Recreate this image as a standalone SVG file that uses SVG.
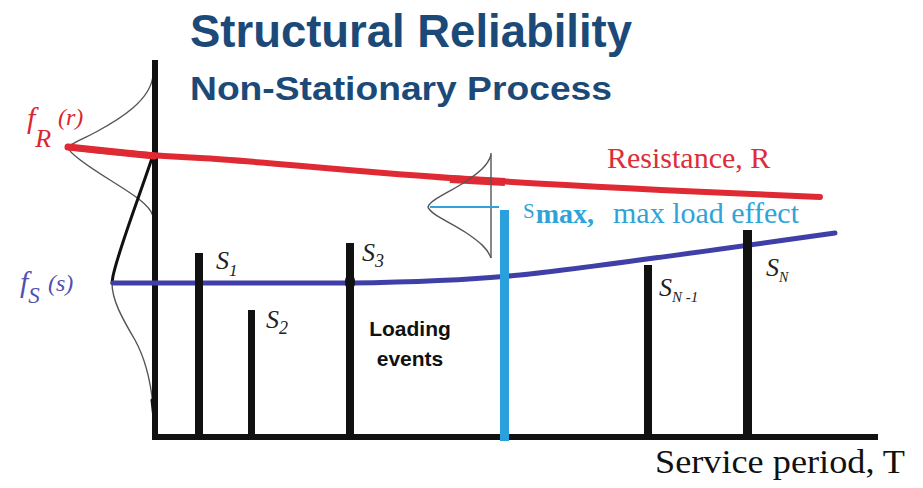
<svg xmlns="http://www.w3.org/2000/svg" width="923" height="488" viewBox="0 0 923 488">
  <style>
    .title { font-family: "Liberation Sans", Arial, sans-serif; font-weight: bold; fill: #1c4a78; }
    .serif { font-family: "Liberation Serif", "Times New Roman", serif; }
    .it { font-style: italic; }
    .bar { fill: #111; }
    .pdf { fill: none; stroke: #555; stroke-width: 1.4; }
    .pdfk { fill: none; stroke: #111; stroke-width: 3; stroke-linecap: round; }
    .lbl { font-family: "Liberation Serif", "Times New Roman", serif; font-style: italic; fill: #222; font-size: 26px; }
  </style>
  <rect width="923" height="488" fill="#ffffff"/>

  <!-- heading -->
  <g id="title">
    <text class="title" x="190" y="47" font-size="46" textLength="442" lengthAdjust="spacingAndGlyphs">Structural Reliability</text>
    <text class="title" x="190" y="100" font-size="34" textLength="422" lengthAdjust="spacingAndGlyphs">Non-Stationary Process</text>
  </g>

  <!-- density curves on the vertical axis -->
  <g id="density-R">
    <path class="pdf" d="M153,76 C150,100 122,118 96,132 C79,141 68,145 68,148 C70,153 86,165 110,180 C134,195 150,205 153,216"/>
  </g>
  <g id="density-S">
    <path class="pdfk" d="M154,152 C140,195 120,245 113,276 L112,283"/>
    <path class="pdf" d="M112,283 C112,300 122,318 135,340 C146,360 151,385 153,405"/>
    <path class="pdfk" d="M152,400 L156,437"/>
  </g>

  <!-- axes -->
  <g id="axes" fill="none" stroke="#111" stroke-linecap="butt">
    <line x1="155" y1="60" x2="155" y2="440" stroke-width="6"/>
    <line x1="152" y1="437" x2="878" y2="437" stroke-width="6"/>
  </g>

  <!-- resistance curve -->
  <g id="resistance">
    <path d="M68,147 C100,151 140,155 200,158 S350,172 480,180 S700,192 820,197" fill="none" stroke="#e02a33" stroke-width="6" stroke-linecap="round"/>
    <path d="M68,147 L154,156" fill="none" stroke="#e02a33" stroke-width="7" stroke-linecap="round"/>
    <path d="M450,179 L505,182" fill="none" stroke="#e02a33" stroke-width="8"/>
    <text class="serif" x="607" y="168" font-size="30" fill="#de2c38">Resistance, R</text>
  </g>

  <!-- load effect mean curve -->
  <g id="load-effect">
    <path d="M113,283 L350,283 C420,282 470,280 520,275 S700,252 835,233" fill="none" stroke="#3f3fa8" stroke-width="5" stroke-linecap="round"/>
  </g>

  <!-- loading events -->
  <g id="events">
    <rect class="bar" x="195" y="253" width="8" height="185"/>
    <rect class="bar" x="248" y="310" width="7" height="128"/>
    <rect class="bar" x="346" y="243" width="8" height="195"/>
    <ellipse cx="350" cy="282" rx="5" ry="9" fill="#111"/>
    <rect class="bar" x="644" y="265" width="8" height="173"/>
    <rect class="bar" x="743" y="230" width="9" height="208"/>
  </g>

  <g id="event-labels" class="lbl">
    <text x="216" y="269">S<tspan dy="7" font-size="17">1</tspan></text>
    <text x="266" y="328">S<tspan dy="6" font-size="18">2</tspan></text>
    <text x="362" y="261">S<tspan dy="6" font-size="18">3</tspan></text>
    <text x="659" y="296">S<tspan dy="6" font-size="15">N -1</tspan></text>
    <text x="766" y="276">S<tspan dy="6" font-size="14">N</tspan></text>
  </g>

  <g id="loading-text">
    <text x="410" y="336" font-family="'Liberation Sans', Arial, sans-serif" font-weight="bold" font-size="21" fill="#111" text-anchor="middle">Loading</text>
    <text x="410" y="366" font-family="'Liberation Sans', Arial, sans-serif" font-weight="bold" font-size="21" fill="#111" text-anchor="middle">events</text>
  </g>

  <!-- maximum load effect -->
  <g id="smax">
    <path class="pdf" d="M491,153 L491,258"/>
    <path class="pdf" d="M491,155 C488,165 480,172 465,182 C448,193 430,200 428,207 C430,214 448,221 465,232 C480,242 488,249 491,258"/>
    <line x1="430" y1="207" x2="499" y2="207" stroke="#2fa3d8" stroke-width="2"/>
    <rect x="500" y="210" width="9" height="231" fill="#2aa1dc"/>
    <text class="serif" x="523" y="218" font-size="21" fill="#2fa3d8">S<tspan dx="1" dy="5" font-size="28" font-weight="bold">max,</tspan></text>
    <text class="serif" x="613" y="223" font-size="30" fill="#2fa3d8">max load effect</text>
  </g>

  <!-- density labels -->
  <g id="density-labels" class="serif it">
    <text x="27" y="128" font-size="30" fill="#d9262f">f<tspan dy="19" font-size="26">R</tspan></text>
    <text x="58" y="125" font-size="24" fill="#d9262f">(r)</text>
    <text x="20" y="292" font-size="30" fill="#5050b0">f<tspan dy="11" font-size="23">S</tspan></text>
    <text x="48" y="291" font-size="24" fill="#5050b0">(s)</text>
  </g>

  <g id="axis-label">
    <text class="serif" x="655" y="473" font-size="34" fill="#111" textLength="250" lengthAdjust="spacingAndGlyphs">Service period, T</text>
  </g>
</svg>
